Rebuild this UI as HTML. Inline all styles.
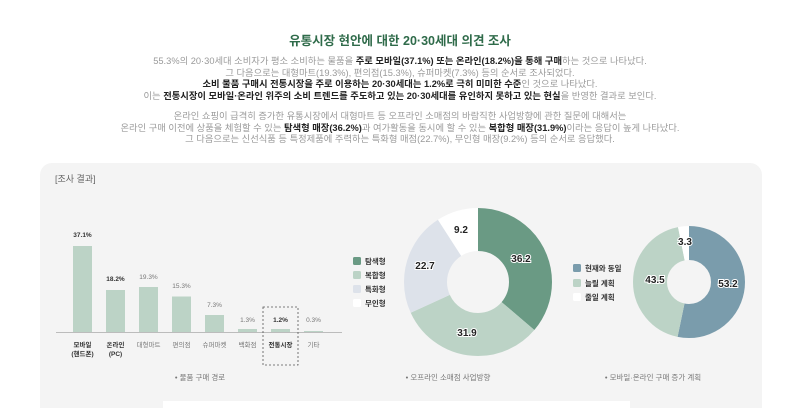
<!DOCTYPE html>
<html><head><meta charset="utf-8"><style>
body{margin:0;width:800px;height:408px;overflow:hidden;background:#fff;font-family:"Liberation Sans","Noto Sans CJK KR",sans-serif}
.t{position:absolute;left:0;width:800px;text-align:center}
.p{font-size:9.3px;color:#9a9a9a;line-height:11.6px}
.p b{color:#222}
</style></head><body>
<div class="t" style="top:30px;font-size:12.5px;font-weight:bold;color:#2f6b4a">유통시장 현안에 대한 20·30세대 의견 조사</div>
<div class="t p" style="top:56px">55.3%의 20·30세대 소비자가 평소 소비하는 물품을 <b>주로 모바일(37.1%) 또는 온라인(18.2%)을 통해 구매</b>하는 것으로 나타났다.<br>그 다음으로는 대형마트(19.3%), 편의점(15.3%), 슈퍼마켓(7.3%) 등의 순서로 조사되었다.<br><b>소비 물품 구매시 전통시장을 주로 이용하는 20·30세대는 1.2%로 극히 미미한 수준</b>인 것으로 나타났다.<br>이는 <b>전통시장이 모바일·온라인 위주의 소비 트렌드를 주도하고 있는 20·30세대를 유인하지 못하고 있는 현실</b>을 반영한 결과로 보인다.</div>
<div class="t p" style="top:111px">온라인 쇼핑이 급격히 증가한 유통시장에서 대형마트 등 오프라인 소매점의 바람직한 사업방향에 관한 질문에 대해서는<br>온라인 구매 이전에 상품을 체험할 수 있는 <b>탐색형 매장(36.2%)</b>과 여가활동을 동시에 할 수 있는 <b>복합형 매장(31.9%)</b>이라는 응답이 높게 나타났다.<br>그 다음으로는 신선식품 등 특정제품에 주력하는 특화형 매점(22.7%), 무인형 매장(9.2%) 등의 순서로 응답했다.</div>
<svg style="position:absolute;left:0;top:0" width="800" height="408" font-family="Liberation Sans, Noto Sans CJK KR, sans-serif">
<rect x="40" y="163" width="722" height="260" rx="12" fill="#f4f4f4"/>
<rect x="163" y="401" width="467" height="10" fill="#fff"/>
<text x="55" y="182" font-size="9" fill="#666">[조사 결과]</text>
<g fill="#bcd3c6">
<rect x="73" y="246" width="19" height="86"/><rect x="106" y="290" width="19" height="42"/><rect x="139" y="287" width="19" height="45"/><rect x="172" y="296.5" width="19" height="35.5"/><rect x="205" y="315" width="19" height="17"/><rect x="238" y="329" width="19" height="3"/><rect x="271" y="329" width="19" height="3"/><rect x="304" y="331" width="19" height="1"/>
</g>
<line x1="56" y1="332.5" x2="342" y2="332.5" stroke="#aaa" stroke-width="0.8"/>
<rect x="263" y="307" width="35" height="58" fill="none" stroke="#555" stroke-width="0.8" stroke-dasharray="2,2"/>
<g font-size="6.5" text-anchor="middle" fill="#777">
<text x="82.5" y="237" font-weight="bold" fill="#333">37.1%</text><text x="115.5" y="281" font-weight="bold" fill="#333">18.2%</text><text x="148.5" y="279">19.3%</text><text x="181.5" y="288">15.3%</text><text x="214.5" y="307">7.3%</text><text x="247.5" y="322">1.3%</text><text x="280.5" y="322" font-weight="bold" fill="#333">1.2%</text><text x="313.5" y="322">0.3%</text>
<text x="82.5" y="347" font-weight="bold" fill="#333">모바일</text><text x="82.5" y="356" font-weight="bold" fill="#333">(핸드폰)</text>
<text x="115.5" y="347" font-weight="bold" fill="#333">온라인</text><text x="115.5" y="356" font-weight="bold" fill="#333">(PC)</text>
<text x="148.5" y="347">대형마트</text><text x="181.5" y="347">편의점</text><text x="214.5" y="347">슈퍼마켓</text><text x="247.5" y="347">백화점</text><text x="280.5" y="347" font-weight="bold" fill="#333">전통시장</text><text x="313.5" y="347">기타</text>
</g>
<text x="200" y="380" font-size="7.5" fill="#777" text-anchor="middle">• 물품 구매 경로</text>
<text x="448" y="380" font-size="7.5" fill="#777" text-anchor="middle">• 오프라인 소매점 사업방향</text>
<text x="653" y="380" font-size="7.5" fill="#777" text-anchor="middle">• 모바일·온라인 구매 증가 계획</text>
<g transform="translate(478,282) rotate(-90)" fill="none" stroke-width="43">
<circle r="52.5" stroke="#6a9a84" stroke-dasharray="119.41 400"/>
<circle r="52.5" stroke="#bcd3c6" stroke-dasharray="105.23 400" stroke-dashoffset="-119.41"/>
<circle r="52.5" stroke="#dde2ea" stroke-dasharray="74.88 400" stroke-dashoffset="-224.64"/>
<circle r="52.5" stroke="#ffffff" stroke-dasharray="30.35 400" stroke-dashoffset="-299.52"/>
</g>
<g transform="translate(689,282) rotate(-90)" fill="none" stroke-width="34">
<circle r="39" stroke="#7a9cac" stroke-dasharray="130.36 400"/>
<circle r="39" stroke="#bcd3c6" stroke-dasharray="106.59 400" stroke-dashoffset="-130.36"/>
<circle r="39" stroke="#ffffff" stroke-dasharray="8.09 400" stroke-dashoffset="-236.95"/>
</g>
<g font-size="10" font-weight="bold" fill="#222" stroke="#fff" stroke-width="2" paint-order="stroke" text-anchor="middle">
<text x="521" y="262">36.2</text><text x="467" y="336">31.9</text><text x="425" y="269">22.7</text><text x="461" y="233">9.2</text>
<text x="728" y="287">53.2</text><text x="655" y="283">43.5</text><text x="685" y="245">3.3</text>
</g>
<g font-size="7.5" font-weight="bold" fill="#333">
<rect x="353" y="257" width="8" height="8" rx="1.5" fill="#6a9a84"/><text x="365" y="264">탐색형</text>
<rect x="353" y="271" width="8" height="8" rx="1.5" fill="#bcd3c6"/><text x="365" y="278">복합형</text>
<rect x="353" y="285" width="8" height="8" rx="1.5" fill="#dde2ea"/><text x="365" y="292">특화형</text>
<rect x="353" y="299" width="8" height="8" rx="1.5" fill="#fff"/><text x="365" y="306">무인형</text>
<rect x="573" y="264" width="8" height="8" rx="1.5" fill="#7a9cac"/><text x="585" y="271">현재와 동일</text>
<rect x="573" y="279" width="8" height="8" rx="1.5" fill="#bcd3c6"/><text x="585" y="286">늘릴 계획</text>
<rect x="573" y="293" width="8" height="8" rx="1.5" fill="#fff"/><text x="585" y="300">줄일 계획</text>
</g>
</svg>
</body></html>
